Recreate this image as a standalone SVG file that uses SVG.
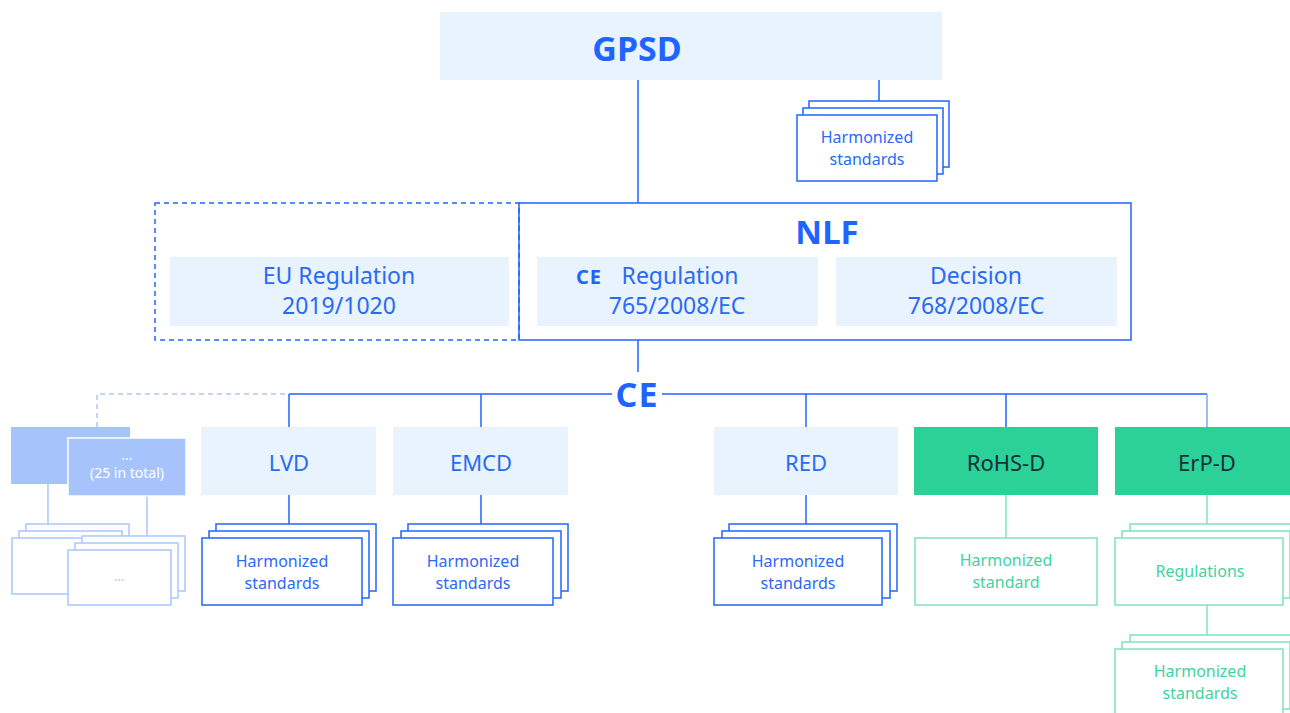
<svg xmlns="http://www.w3.org/2000/svg" width="1290" height="713" viewBox="0 0 1290 713">
<style>
text{font-family:"Noto Sans","Open Sans",sans-serif;text-anchor:middle}
.fill{fill:#e8f3fe}
.bt{fill:#2a6af2}
.bold{font-weight:700;fill:#1f64ff}
.card{fill:#fff;stroke:#1f64ff;stroke-width:1.5}
.gcard{fill:#fff;stroke:#7fe2bf;stroke-width:1.5}
.pcard{fill:#fff;stroke:#aac6fb;stroke-width:1.5}
.gt{fill:#3fd39f}
.ln{stroke:#1f64ff;stroke-width:1.5;fill:none}
.gln{stroke:#7fe2bf;stroke-width:1.5;fill:none}
.pln{stroke:#aac6fb;stroke-width:1.5;fill:none}
.ce{font-weight:700;fill:#1f64ff}
</style>
<rect width="1290" height="713" fill="#fff"/>
<g id="connectors">
<line class="ln" x1="638" y1="80" x2="638" y2="203"/>
<line class="ln" x1="879" y1="80" x2="879" y2="101"/>
<line class="ln" x1="638" y1="340" x2="638" y2="372"/>
<line class="ln" x1="289" y1="394" x2="612" y2="394"/>
<line class="ln" x1="662" y1="394" x2="1207" y2="394"/>
<line class="ln" x1="289" y1="394" x2="289" y2="427"/>
<line class="ln" x1="481" y1="394" x2="481" y2="427"/>
<line class="ln" x1="806" y1="394" x2="806" y2="427"/>
<line class="ln" x1="1006" y1="394" x2="1006" y2="427"/>
<line x1="1207" y1="394" x2="1207" y2="427" stroke="#7ea6fb" stroke-width="1.5"/>
<path class="pln" d="M97 427 V394 H289" stroke-dasharray="5 4"/>
<line class="ln" x1="289" y1="495" x2="289" y2="524"/>
<line class="ln" x1="481" y1="495" x2="481" y2="524"/>
<line class="ln" x1="806" y1="495" x2="806" y2="524"/>
<line class="gln" x1="1006" y1="495" x2="1006" y2="538"/>
<line class="gln" x1="1207" y1="495" x2="1207" y2="524"/>
<line class="gln" x1="1207" y1="605" x2="1207" y2="635"/>
<line class="pln" x1="48" y1="484" x2="48" y2="524"/>
<line class="pln" x1="147" y1="496" x2="147" y2="536"/>
</g>
<g id="gpsd">
<rect class="fill" x="440" y="12" width="502" height="68"/>
<text class="bold" x="637" y="61" font-size="34">GPSD</text>
</g>
<g id="gpsd-standards">
<rect class="card" x="809" y="101" width="140" height="66"/>
<rect class="card" x="803" y="108" width="140" height="66"/>
<rect class="card" x="797" y="115" width="140" height="66"/>
<text class="bt" x="867" y="143" font-size="16">Harmonized</text>
<text class="bt" x="867" y="165" font-size="16">standards</text>
</g>
<g id="eu-regulation">
<rect x="155" y="203" width="364" height="137" fill="none" stroke="#1f64ff" stroke-width="1.5" stroke-dasharray="5 4"/>
<rect class="fill" x="170" y="257" width="339" height="69"/>
<text class="bt" x="339" y="284" font-size="23">EU Regulation</text>
<text class="bt" x="339" y="314" font-size="23">2019/1020</text>
</g>
<g id="nlf">
<rect x="519" y="203" width="612" height="137" fill="none" stroke="#1f64ff" stroke-width="1.5"/>
<text class="bold" x="827" y="244" font-size="33">NLF</text>
</g>
<g id="regulation-765">
<rect class="fill" x="537" y="257" width="281" height="69"/>
<text class="ce" x="589" y="284" font-size="20" letter-spacing="1">CE</text>
<text class="bt" x="680" y="284" font-size="23">Regulation</text>
<text class="bt" x="677" y="314" font-size="23">765/2008/EC</text>
</g>
<g id="decision-768">
<rect class="fill" x="836" y="257" width="281" height="69"/>
<text class="bt" x="976" y="284" font-size="23">Decision</text>
<text class="bt" x="976" y="314" font-size="23">768/2008/EC</text>
</g>
<g id="ce-mark">
<text class="ce" x="637" y="407" font-size="34" letter-spacing="1">CE</text>
</g>
<g id="other-directives">
<rect x="11" y="427" width="119" height="57" fill="#a6c4fb"/>
<rect x="68" y="438" width="118" height="58" fill="#a6c4fb" stroke="#fff" stroke-width="1.5"/>
<text x="127" y="460" font-size="14" fill="#fff">...</text>
<text x="127" y="478" font-size="14" fill="#fff">(25 in total)</text>
</g>
<g id="other-standards">
<rect class="pcard" x="26" y="524" width="103" height="55"/>
<rect class="pcard" x="19" y="531" width="103" height="56"/>
<rect class="pcard" x="12" y="538" width="103" height="56"/>
<rect class="pcard" x="82" y="536" width="103" height="55"/>
<rect class="pcard" x="75" y="543" width="103" height="55"/>
<rect class="pcard" x="68" y="550" width="103" height="55"/>
<text x="119" y="581" font-size="13" fill="#aac6fb">...</text>
</g>
<g id="lvd">
<rect class="fill" x="201" y="427" width="175" height="68"/>
<text class="bt" x="289" y="471" font-size="22">LVD</text>
</g>
<g id="lvd-standards">
<rect class="card" x="216" y="524" width="160" height="67"/>
<rect class="card" x="209" y="531" width="160" height="67"/>
<rect class="card" x="202" y="538" width="160" height="67"/>
<text class="bt" x="282" y="567" font-size="16">Harmonized</text>
<text class="bt" x="282" y="589" font-size="16">standards</text>
</g>
<g id="emcd">
<rect class="fill" x="393" y="427" width="175" height="68"/>
<text class="bt" x="481" y="471" font-size="22">EMCD</text>
</g>
<g id="emcd-standards">
<rect class="card" x="408" y="524" width="160" height="67"/>
<rect class="card" x="401" y="531" width="160" height="67"/>
<rect class="card" x="393" y="538" width="160" height="67"/>
<text class="bt" x="473" y="567" font-size="16">Harmonized</text>
<text class="bt" x="473" y="589" font-size="16">standards</text>
</g>
<g id="red">
<rect class="fill" x="714" y="427" width="184" height="68"/>
<text class="bt" x="806" y="471" font-size="22">RED</text>
</g>
<g id="red-standards">
<rect class="card" x="729" y="524" width="168" height="67"/>
<rect class="card" x="722" y="531" width="168" height="67"/>
<rect class="card" x="714" y="538" width="168" height="67"/>
<text class="bt" x="798" y="567" font-size="16">Harmonized</text>
<text class="bt" x="798" y="589" font-size="16">standards</text>
</g>
<g id="rohs">
<rect x="914" y="427" width="184" height="68" fill="#2bd196"/>
<text x="1006" y="471" font-size="22" fill="#13303a">RoHS-D</text>
</g>
<g id="rohs-standard">
<rect class="gcard" x="915" y="538" width="182" height="67"/>
<text class="gt" x="1006" y="566" font-size="16">Harmonized</text>
<text class="gt" x="1006" y="588" font-size="16">standard</text>
</g>
<g id="erp">
<rect x="1115" y="427" width="184" height="68" fill="#2bd196"/>
<text x="1207" y="471" font-size="22" fill="#13303a">ErP-D</text>
</g>
<g id="erp-regulations">
<rect class="gcard" x="1130" y="524" width="168" height="67"/>
<rect class="gcard" x="1122" y="531" width="168" height="67"/>
<rect class="gcard" x="1115" y="538" width="168" height="67"/>
<text class="gt" x="1200" y="577" font-size="16">Regulations</text>
</g>
<g id="erp-standards">
<rect class="gcard" x="1130" y="635" width="168" height="67"/>
<rect class="gcard" x="1122" y="642" width="168" height="67"/>
<rect class="gcard" x="1115" y="649" width="168" height="67"/>
<text class="gt" x="1200" y="677" font-size="16">Harmonized</text>
<text class="gt" x="1200" y="699" font-size="16">standards</text>
</g>
</svg>
